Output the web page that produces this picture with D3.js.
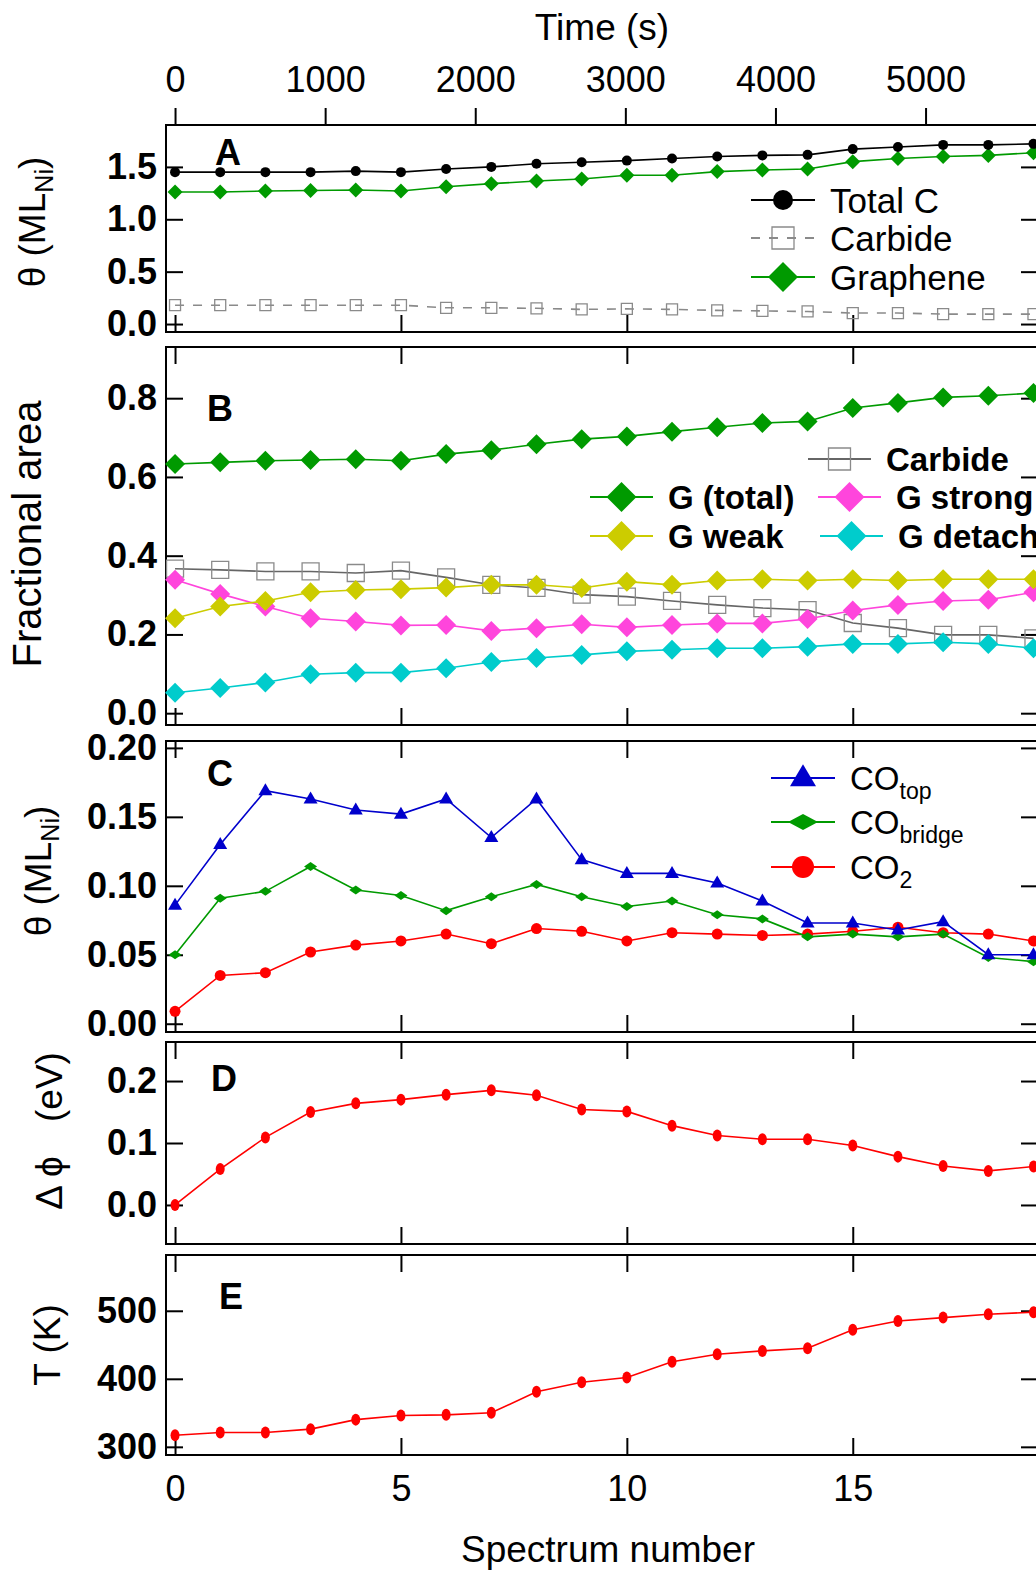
<!DOCTYPE html>
<html>
<head>
<meta charset="utf-8">
<script src="https://cdn.jsdelivr.net/npm/d3@7"></script>
<style>
  body { margin: 0; background: #fff; }
  svg { display: block; }
  text { font-family: "Liberation Sans", Arial, Helvetica, sans-serif; fill: #000; }
</style>
</head>
<body>
<svg id="chart" width="1036" height="1573"></svg>
<script>
// ---- data -------------------------------------------------------------
const spectrum = [0, 1, 2, 3, 4, 5, 6, 7, 8, 9, 10, 11, 12, 13, 14, 15, 16, 17, 18, 19];

// A: coverage (ML Ni)
const totalC    = [1.45, 1.45, 1.45, 1.45, 1.46, 1.45, 1.48, 1.50, 1.53, 1.545, 1.56, 1.58, 1.60, 1.61, 1.615, 1.67, 1.69, 1.71, 1.71, 1.72];
const carbideA  = [0.18, 0.18, 0.18, 0.18, 0.18, 0.18, 0.155, 0.155, 0.15, 0.14, 0.145, 0.14, 0.13, 0.125, 0.12, 0.105, 0.105, 0.095, 0.095, 0.095];
const grapheneA = [1.26, 1.26, 1.27, 1.275, 1.28, 1.27, 1.31, 1.34, 1.365, 1.385, 1.42, 1.42, 1.455, 1.47, 1.48, 1.55, 1.58, 1.60, 1.61, 1.635];

// B: fractional area
const carbideB  = [0.367, 0.364, 0.360, 0.360, 0.356, 0.362, 0.345, 0.326, 0.318, 0.301, 0.296, 0.285, 0.275, 0.267, 0.262, 0.229, 0.216, 0.199, 0.199, 0.190];
const gTotal    = [0.633, 0.637, 0.641, 0.643, 0.645, 0.641, 0.658, 0.668, 0.683, 0.696, 0.703, 0.715, 0.726, 0.737, 0.741, 0.775, 0.788, 0.802, 0.806, 0.813];
const gWeak     = [0.241, 0.271, 0.285, 0.307, 0.313, 0.315, 0.319, 0.326, 0.326, 0.318, 0.334, 0.326, 0.337, 0.340, 0.337, 0.340, 0.337, 0.340, 0.340, 0.340];
const gStrong   = [0.339, 0.303, 0.271, 0.241, 0.233, 0.223, 0.224, 0.209, 0.216, 0.226, 0.218, 0.224, 0.228, 0.228, 0.239, 0.261, 0.275, 0.285, 0.288, 0.307];
const gDetached = [0.052, 0.064, 0.078, 0.099, 0.103, 0.103, 0.114, 0.130, 0.140, 0.148, 0.157, 0.161, 0.165, 0.165, 0.169, 0.176, 0.176, 0.180, 0.176, 0.165];

// C: CO / CO2 coverage (ML Ni)
const coTop     = [0.086, 0.130, 0.169, 0.163, 0.155, 0.152, 0.163, 0.135, 0.163, 0.119, 0.109, 0.109, 0.102, 0.089, 0.073, 0.073, 0.068, 0.074, 0.050, 0.050];
const coBridge  = [0.050, 0.091, 0.096, 0.114, 0.097, 0.093, 0.082, 0.092, 0.101, 0.092, 0.085, 0.089, 0.079, 0.076, 0.063, 0.065, 0.063, 0.065, 0.048, 0.045];
const co2       = [0.009, 0.035, 0.037, 0.052, 0.057, 0.060, 0.065, 0.058, 0.069, 0.067, 0.060, 0.066, 0.065, 0.064, 0.065, 0.067, 0.070, 0.066, 0.065, 0.060];

// D: work function change (eV)
const workFunction = [0.000, 0.058, 0.109, 0.150, 0.164, 0.170, 0.178, 0.185, 0.177, 0.154, 0.151, 0.128, 0.112, 0.106, 0.106, 0.096, 0.078, 0.063, 0.055, 0.062];

// E: temperature (K)
const temperature = [317, 321, 321, 326, 340, 346, 347, 350, 381, 395, 402, 425, 436, 441, 445, 472, 485, 490, 495, 498];

// ticks
const timeTicks     = [0, 1000, 2000, 3000, 4000, 5000];
const spectrumTicks = [0, 5, 10, 15];
const ticksA = [0, 0.5, 1.0, 1.5];
const ticksB = [0, 0.2, 0.4, 0.6, 0.8];
const ticksC = [0, 0.05, 0.10, 0.15, 0.20];
const ticksD = [0, 0.1, 0.2];
const ticksE = [300, 400, 500];
const secondsPerSpectrum = 301;

// ---- layout -----------------------------------------------------------
const svg = d3.select("#chart");
const xLeft = 166, xRight = 1038, tickLen = 17;
const GREEN = "#009a00", PINK = "#ff45dc", YELLOW = "#cccc00", CYAN = "#00cccc",
      BLUE = "#0000cc", RED = "#ff0000", GREY = "#8a8a8a", DARKGREY = "#666";

const x = d3.scaleLinear().domain([-0.2, 19.1]).range([xLeft, xRight]);
const xTime = d3.scaleLinear().domain([0, secondsPerSpectrum]).range([x(0), x(1)]);

svg.append("rect").attr("width", 1036).attr("height", 1573).attr("fill", "#fff");

const panels = [
  { id: "A", top: 125,  bottom: 332,  domain: [-0.076, 1.90],  ticks: ticksA, fmt: ".1f", letter: [215, 165] },
  { id: "B", top: 347,  bottom: 725,  domain: [-0.03, 0.93],   ticks: ticksB, fmt: ".1f", letter: [207, 421] },
  { id: "C", top: 741,  bottom: 1032, domain: [-0.006, 0.205], ticks: ticksC, fmt: ".2f", letter: [207, 786] },
  { id: "D", top: 1042, bottom: 1244, domain: [-0.063, 0.263], ticks: ticksD, fmt: ".1f", letter: [211, 1091] },
  { id: "E", top: 1255, bottom: 1455, domain: [288, 582],      ticks: ticksE, fmt: "d",   letter: [219, 1309] }
];
panels.forEach(p => p.y = d3.scaleLinear().domain(p.domain).range([p.bottom, p.top]));
const byId = Object.fromEntries(panels.map(p => [p.id, p]));

function styleAxis(g, fontSize, weight) {
  g.select(".domain").remove();
  g.selectAll(".tick line").attr("stroke", "#000").attr("stroke-width", 2);
  g.selectAll(".tick text")
    .attr("font-family", "Liberation Sans, Arial, sans-serif")
    .attr("font-size", fontSize).attr("font-weight", weight).attr("fill", "#000");
}

// frames and axes
panels.forEach(p => {
  const g = svg.append("g").attr("class", "panel-" + p.id);
  g.append("g").attr("transform", `translate(${xLeft},0)`)
    .call(d3.axisLeft(p.y).tickValues(p.ticks).tickSize(-tickLen).tickPadding(9).tickFormat(d3.format(p.fmt)))
    .call(a => styleAxis(a, 36, "bold"));
  g.append("g").attr("transform", `translate(${xRight},0)`)
    .call(d3.axisRight(p.y).tickValues(p.ticks).tickSize(-tickLen).tickFormat(""))
    .call(a => styleAxis(a, 36, "bold"));
  g.append("g").attr("transform", `translate(0,${p.bottom})`)
    .call(d3.axisBottom(x).tickValues(spectrumTicks).tickSize(-tickLen).tickPadding(p.id === "E" ? 20 : 0)
      .tickFormat(p.id === "E" ? d3.format("d") : ""))
    .call(a => styleAxis(a, 36, "normal"));
  if (p.id !== "A") {
    g.append("g").attr("transform", `translate(0,${p.top})`)
      .call(d3.axisTop(x).tickValues(spectrumTicks).tickSize(-tickLen).tickFormat(""))
      .call(a => styleAxis(a, 36, "normal"));
  }
  g.append("rect").attr("x", xLeft).attr("y", p.top)
    .attr("width", xRight - xLeft).attr("height", p.bottom - p.top)
    .attr("fill", "none").attr("stroke", "#000").attr("stroke-width", 2);
  g.append("text").attr("x", p.letter[0]).attr("y", p.letter[1])
    .attr("font-size", 36).attr("font-weight", "bold").text(p.id);
});

// top time axis
svg.append("g").attr("transform", `translate(0,${byId.A.top})`)
  .call(d3.axisTop(xTime).tickValues(timeTicks).tickSize(tickLen).tickPadding(16).tickFormat(d3.format("d")))
  .call(a => styleAxis(a, 36, "normal"));
svg.append("text").attr("x", 602).attr("y", 40).attr("text-anchor", "middle")
  .attr("font-size", 37).text("Time (s)");
svg.append("text").attr("x", 608).attr("y", 1562).attr("text-anchor", "middle")
  .attr("font-size", 37).text("Spectrum number");

// y titles
function yTitle(xb, yc, parts, size) {
  const t = svg.append("text").attr("transform", `translate(${xb},${yc}) rotate(-90)`)
    .attr("text-anchor", "middle").attr("font-size", size);
  parts.forEach(([s, sub]) => {
    const ts = t.append("tspan").text(s);
    if (sub === "sub") ts.attr("font-size", size * 0.68).attr("dy", 8);
    if (sub === "back") ts.attr("dy", -8);
  });
  return t;
}
yTitle(45, 222, [["θ (ML"], ["Ni", "sub"], [")", "back"]], 37);
yTitle(41, 534, [["Fractional area"]], 40);
yTitle(51, 871, [["θ (ML"], ["Ni", "sub"], [")", "back"]], 37);
yTitle(62, 1087, [["(eV)"]], 37);
yTitle(62, 1183, [["Δ ϕ"]], 37);
yTitle(60, 1345, [["T (K)"]], 37);

// ---- marks ------------------------------------------------------------
const shapes = {
  circle:   (s) => `M${-s.r},0A${s.r},${s.r} 0 1,0 ${s.r},0A${s.r},${s.r} 0 1,0 ${-s.r},0Z`,
  ellipse:  (s) => `M${-s.rx},0A${s.rx},${s.ry} 0 1,0 ${s.rx},0A${s.rx},${s.ry} 0 1,0 ${-s.rx},0Z`,
  square:   (s) => `M${-s.h},${-s.h}H${s.h}V${s.h}H${-s.h}Z`,
  diamond:  (s) => `M0,${-s.hh}L${s.hw},0L0,${s.hh}L${-s.hw},0Z`,
  triangle: (s) => `M0,${-s.h * 0.62}L${s.w / 2},${s.h * 0.38}L${-s.w / 2},${s.h * 0.38}Z`
};

function markerPath(sel, spec) {
  return sel.append("path").attr("d", shapes[spec.shape](spec))
    .attr("fill", spec.open ? "none" : spec.color)
    .attr("stroke", spec.open ? spec.color : "none")
    .attr("stroke-width", spec.open ? 1.3 : 0);
}

function series(panelId, values, spec) {
  const p = byId[panelId];
  const g = svg.append("g");
  const line = d3.line().x((d, i) => x(spectrum[i])).y(d => p.y(d));
  g.append("path").datum(values).attr("d", line)
    .attr("fill", "none").attr("stroke", spec.lineColor || spec.color)
    .attr("stroke-width", spec.lineWidth || 1.6)
    .attr("stroke-dasharray", spec.dash || null);
  values.forEach((v, i) => {
    markerPath(g.append("g").attr("transform", `translate(${x(spectrum[i])},${p.y(v)})`), spec);
  });
}

function legendItem(lx0, lx1, ly, spec, label, size, weight, sub) {
  const g = svg.append("g");
  g.append("line").attr("x1", lx0).attr("x2", lx1).attr("y1", ly).attr("y2", ly)
    .attr("stroke", spec.lineColor || spec.color).attr("stroke-width", 2)
    .attr("stroke-dasharray", spec.dash || null);
  markerPath(g.append("g").attr("transform", `translate(${(lx0 + lx1) / 2},${ly})`), spec);
  const t = g.append("text").attr("x", lx1 + 15).attr("y", ly + size * 0.36)
    .attr("font-size", size).attr("font-weight", weight).text(label);
  if (sub) t.append("tspan").attr("font-size", size * 0.7).attr("dy", 9).text(sub);
}

// A
const specTotalC   = { shape: "circle", r: 5, color: "#000" };
const specCarbideA = { shape: "square", h: 5.5, color: GREY, open: true, dash: "9,9" };
const specGraphA   = { shape: "diamond", hw: 7.5, hh: 7.5, color: GREEN };
series("A", carbideA, specCarbideA);
series("A", grapheneA, specGraphA);
series("A", totalC, specTotalC);
legendItem(751, 815, 200, { shape: "circle", r: 10, color: "#000" }, "Total C", 35, "normal");
legendItem(751, 815, 238, { shape: "square", h: 11, color: GREY, open: true, dash: "9,9" }, "Carbide", 35, "normal");
legendItem(751, 815, 277, { shape: "diamond", hw: 15, hh: 15, color: GREEN }, "Graphene", 35, "normal");

// B
const specCarbideB = { shape: "square", h: 8.5, color: GREY, lineColor: DARKGREY, open: true };
series("B", carbideB, specCarbideB);
series("B", gDetached, { shape: "diamond", hw: 10, hh: 10, color: CYAN });
series("B", gStrong,   { shape: "diamond", hw: 10, hh: 10, color: PINK });
series("B", gWeak,     { shape: "diamond", hw: 10, hh: 10, color: YELLOW });
series("B", gTotal,    { shape: "diamond", hw: 10, hh: 10, color: GREEN });
legendItem(808, 871, 459, { shape: "square", h: 11, color: GREY, lineColor: DARKGREY, open: true }, "Carbide", 33, "bold");
legendItem(590, 653, 497, { shape: "diamond", hw: 15, hh: 15, color: GREEN }, "G (total)", 33, "bold");
legendItem(818, 881, 497, { shape: "diamond", hw: 15, hh: 15, color: PINK }, "G strong", 33, "bold");
legendItem(590, 653, 536, { shape: "diamond", hw: 15, hh: 15, color: YELLOW }, "G weak", 33, "bold");
legendItem(820, 883, 536, { shape: "diamond", hw: 15, hh: 15, color: CYAN }, "G detached", 33, "bold");

// C
series("C", co2,      { shape: "circle", r: 5.5, color: RED });
series("C", coBridge, { shape: "diamond", hw: 6.5, hh: 4.5, color: GREEN });
series("C", coTop,    { shape: "triangle", w: 14, h: 12, color: BLUE });
legendItem(771, 835, 778, { shape: "triangle", w: 26, h: 22, color: BLUE }, "CO", 33, "normal", "top");
legendItem(771, 835, 822, { shape: "diamond", hw: 15, hh: 8, color: GREEN }, "CO", 33, "normal", "bridge");
legendItem(771, 835, 867, { shape: "circle", r: 11, color: RED }, "CO", 33, "normal", "2");

// D, E
series("D", workFunction, { shape: "ellipse", rx: 4.5, ry: 6, color: RED });
series("E", temperature,  { shape: "ellipse", rx: 4.5, ry: 6, color: RED });
</script>
</body>
</html>
